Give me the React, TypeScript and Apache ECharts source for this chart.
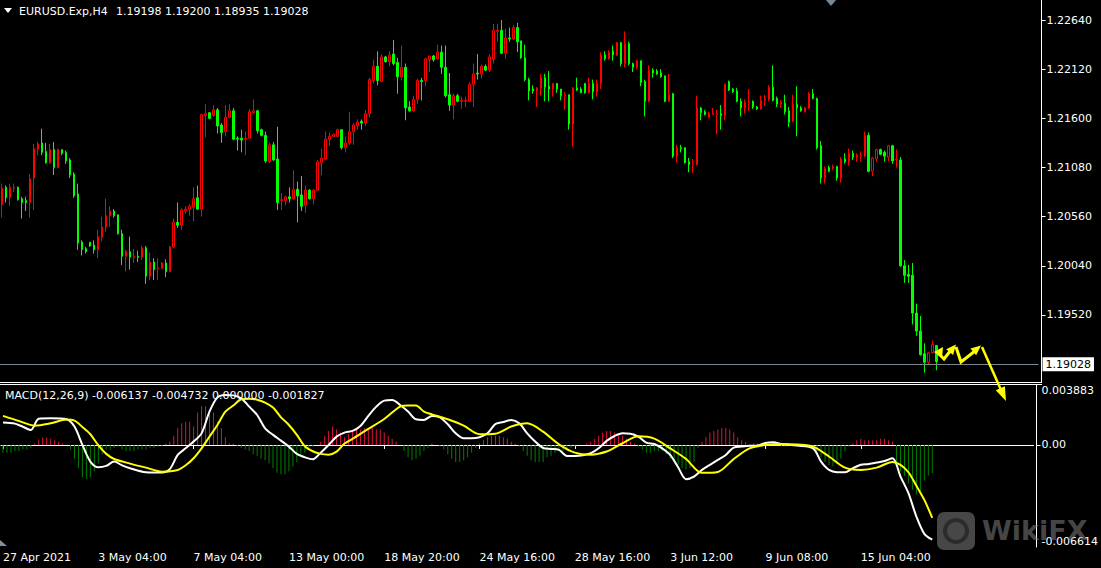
import React, { useEffect, useRef } from 'react';
import * as echarts from 'echarts';

const symbolName = 'EURUSD.Exp,H4';
const indicatorName = 'MACD(12,26,9)';

const opens = [
1.2069,1.2087,1.2076,1.2086,1.2087,1.2075,1.2073,1.2071,1.2097,1.2127,
1.2134,1.2125,1.2113,1.2127,1.2108,1.2127,1.2124,1.2116,1.2101,1.2080,
1.2029,1.2022,1.2029,1.2026,1.2021,1.2034,1.2045,1.2057,1.2062,1.2058,
1.2038,1.2014,1.2019,1.2013,1.2014,1.2013,1.2023,1.1993,1.2008,1.2001,
1.2001,1.2007,1.1998,1.2024,1.2050,1.2047,1.2062,1.2064,1.2066,1.2076,
1.2064,1.2163,1.2166,1.2163,1.2169,1.2153,1.2146,1.2161,1.2168,1.2139,
1.2139,1.2138,1.2139,1.2166,1.2168,1.2148,1.2142,1.2114,1.2132,1.2117,
1.2073,1.2073,1.2077,1.2075,1.2085,1.2079,1.2068,1.2084,1.2075,1.2084,
1.2113,1.2117,1.2138,1.2141,1.2141,1.2148,1.2129,1.2134,1.2146,1.2152,
1.2157,1.2155,1.2165,1.2200,1.2215,1.2199,1.2225,1.2220,1.2228,1.2219,
1.2204,1.2214,1.2172,1.2168,1.2180,1.2200,1.2200,1.2222,1.2226,1.2223,
1.2230,1.2214,1.2185,1.2174,1.2184,1.2178,1.2178,1.2178,1.2196,1.2208,
1.2207,1.2215,1.2211,1.2223,1.2252,1.2253,1.2229,1.2245,1.2244,1.2256,
1.2242,1.2224,1.2201,1.2191,1.2189,1.2192,1.2203,1.2194,1.2191,1.2197,
1.2191,1.2184,1.2185,1.2154,1.2192,1.2191,1.2197,1.2187,1.2197,1.2188,
1.2197,1.2227,1.2223,1.2231,1.2227,1.2240,1.2218,1.2239,1.2218,1.2214,
1.2221,1.2199,1.2178,1.2211,1.2210,1.2208,1.2205,1.2178,1.2186,1.2120,
1.2129,1.2129,1.2114,1.2111,1.2111,1.2171,1.2167,1.2161,1.2164,1.2164,
1.2165,1.2163,1.2199,1.2191,1.2189,1.2178,1.2171,1.2176,1.2178,1.2172,
1.2170,1.2179,1.2180,1.2193,1.2181,1.2175,1.2176,1.2168,1.2157,1.2175,
1.2171,1.2167,1.2171,1.2186,1.2181,1.2131,1.2097,1.2108,1.2107,1.2109,
1.2097,1.2117,1.2114,1.2123,1.2119,1.2120,1.2120,1.2142,1.2104,1.2117,
1.2127,1.2124,1.2119,1.2131,1.2116,1.2116,1.2004,1.1995,1.1994,1.1954,
1.1935,1.1911,1.1902,1.1912,1.19198];

const highs = [
1.2091,1.2089,1.2091,1.2091,1.2088,1.2077,1.2077,1.2101,1.2133,1.2135,
1.2149,1.2134,1.2133,1.2135,1.2128,1.2127,1.2126,1.2118,1.2103,1.2091,
1.2031,1.2024,1.2029,1.2031,1.2042,1.2056,1.2075,1.2067,1.2064,1.2058,
1.2042,1.2021,1.2035,1.2022,1.2020,1.2025,1.2025,1.2018,1.2012,1.2012,
1.2008,1.2011,1.2025,1.2054,1.2071,1.2065,1.2067,1.2069,1.2087,1.2089,
1.2165,1.2175,1.2166,1.2174,1.2171,1.2155,1.2174,1.2175,1.2171,1.2141,
1.2148,1.2146,1.2170,1.2180,1.2169,1.2149,1.2146,1.2134,1.2135,1.2151,
1.2081,1.2078,1.2087,1.2105,1.2093,1.2099,1.2089,1.2085,1.2085,1.2116,
1.2128,1.2146,1.2145,1.2144,1.2149,1.2148,1.2141,1.2167,1.2155,1.2159,
1.2159,1.2169,1.2203,1.2222,1.2231,1.2228,1.2226,1.2231,1.2243,1.2224,
1.2237,1.2218,1.2178,1.2184,1.2202,1.2203,1.2224,1.2226,1.2227,1.2238,
1.2237,1.2237,1.2208,1.2186,1.2186,1.2183,1.2183,1.2198,1.2218,1.2228,
1.2217,1.2217,1.2228,1.2260,1.2260,1.2264,1.2255,1.2256,1.2259,1.2261,
1.2242,1.2238,1.2203,1.2195,1.2193,1.2207,1.2207,1.2210,1.2197,1.2197,
1.2191,1.2188,1.2185,1.2193,1.2203,1.2193,1.2197,1.2203,1.2201,1.2201,
1.2230,1.2231,1.2232,1.2237,1.2241,1.2241,1.2252,1.2241,1.2219,1.2222,
1.2221,1.2201,1.2216,1.2213,1.2212,1.2212,1.2205,1.2207,1.2187,1.2132,
1.2132,1.2129,1.2118,1.2117,1.2184,1.2172,1.2169,1.2167,1.2171,1.2169,
1.2174,1.2197,1.2200,1.2192,1.2192,1.2181,1.2180,1.2191,1.2179,1.2173,
1.2184,1.2185,1.2195,1.2216,1.2183,1.2179,1.2185,1.2172,1.2185,1.2194,
1.2173,1.2172,1.2188,1.2191,1.2182,1.2136,1.2109,1.2110,1.2111,1.2110,
1.2119,1.2123,1.2128,1.2126,1.2123,1.2125,1.2146,1.2145,1.2119,1.2128,
1.2128,1.2126,1.2132,1.2132,1.2127,1.2119,1.2010,1.2005,1.2007,1.1964,
1.1951,1.1922,1.1913,1.1925,1.19200];

const lows = [
1.2055,1.2071,1.2067,1.2082,1.2073,1.2054,1.2062,1.2055,1.2063,1.2121,
1.2121,1.2112,1.2112,1.2100,1.2107,1.2121,1.2112,1.2097,1.2076,1.2021,
1.2015,1.2017,1.2024,1.2017,1.2012,1.2030,1.2040,1.2045,1.2055,1.2037,
1.2005,1.1998,1.2000,1.2007,1.2008,1.2010,1.1985,1.1989,1.1989,1.1989,
1.2001,1.1992,1.1997,1.2023,1.2044,1.2042,1.2059,1.2057,1.2051,1.2063,
1.2056,1.2140,1.2159,1.2162,1.2144,1.2134,1.2141,1.2160,1.2137,1.2126,
1.2124,1.2121,1.2138,1.2165,1.2144,1.2141,1.2113,1.2113,1.2115,1.2063,
1.2063,1.2068,1.2071,1.2074,1.2050,1.2062,1.2060,1.2074,1.2069,1.2083,
1.2100,1.2116,1.2131,1.2140,1.2140,1.2127,1.2124,1.2132,1.2132,1.2148,
1.2148,1.2152,1.2161,1.2197,1.2195,1.2199,1.2219,1.2215,1.2216,1.2186,
1.2200,1.2158,1.2167,1.2167,1.2175,1.2179,1.2194,1.2209,1.2220,1.2223,
1.2207,1.2182,1.2168,1.2159,1.2177,1.2170,1.2172,1.2177,1.2172,1.2201,
1.2202,1.2210,1.2209,1.2218,1.2241,1.2228,1.2223,1.2241,1.2243,1.2230,
1.2223,1.2199,1.2179,1.2186,1.2172,1.2184,1.2178,1.2178,1.2183,1.2187,
1.2179,1.2169,1.2148,1.2130,1.2189,1.2187,1.2186,1.2187,1.2180,1.2183,
1.2191,1.2221,1.2222,1.2221,1.2226,1.2215,1.2214,1.2216,1.2209,1.2212,
1.2194,1.2162,1.2177,1.2203,1.2206,1.2203,1.2177,1.2178,1.2118,1.2113,
1.2124,1.2112,1.2103,1.2102,1.2110,1.2158,1.2163,1.2160,1.2164,1.2143,
1.2148,1.2158,1.2189,1.2187,1.2177,1.2162,1.2165,1.2168,1.2170,1.2169,
1.2169,1.2173,1.2178,1.2178,1.2172,1.2171,1.2164,1.2151,1.2156,1.2141,
1.2167,1.2166,1.2170,1.2180,1.2127,1.2091,1.2091,1.2103,1.2105,1.2094,
1.2092,1.2112,1.2110,1.2116,1.2114,1.2114,1.2119,1.2103,1.2099,1.2114,
1.2121,1.2114,1.2115,1.2112,1.2108,1.2003,1.1986,1.1986,1.1942,1.1930,
1.1909,1.1891,1.1899,1.1911,1.18935];

const closes = [
1.2086,1.2076,1.2087,1.2087,1.2074,1.2071,1.2071,1.2096,1.2128,1.2133,
1.2124,1.2113,1.2127,1.2108,1.2127,1.2123,1.2115,1.2100,1.2078,1.2028,
1.2021,1.2019,1.2025,1.2021,1.2035,1.2045,1.2057,1.2062,1.2057,1.2038,
1.2014,1.2019,1.2013,1.2014,1.2013,1.2023,1.1993,1.2008,1.2000,1.2002,
1.2007,1.1998,1.2024,1.2050,1.2047,1.2063,1.2064,1.2067,1.2075,1.2064,
1.2164,1.2165,1.2160,1.2169,1.2152,1.2145,1.2161,1.2168,1.2138,1.2138,
1.2137,1.2139,1.2167,1.2168,1.2147,1.2142,1.2115,1.2132,1.2116,1.2071,
1.2074,1.2077,1.2075,1.2085,1.2078,1.2067,1.2084,1.2075,1.2084,1.2114,
1.2118,1.2138,1.2141,1.2143,1.2148,1.2129,1.2134,1.2146,1.2153,1.2156,
1.2155,1.2165,1.2201,1.2215,1.2200,1.2225,1.2220,1.2227,1.2218,1.2204,
1.2214,1.2171,1.2168,1.2180,1.2200,1.2199,1.2223,1.2226,1.2222,1.2230,
1.2214,1.2184,1.2174,1.2184,1.2178,1.2179,1.2179,1.2196,1.2207,1.2207,
1.2215,1.2211,1.2225,1.2253,1.2253,1.2229,1.2245,1.2244,1.2256,1.2241,
1.2224,1.2201,1.2189,1.2189,1.2192,1.2203,1.2193,1.2191,1.2197,1.2191,
1.2184,1.2185,1.2154,1.2192,1.2190,1.2187,1.2187,1.2197,1.2188,1.2197,
1.2227,1.2223,1.2230,1.2227,1.2240,1.2218,1.2239,1.2218,1.2214,1.2221,
1.2198,1.2178,1.2211,1.2208,1.2207,1.2204,1.2178,1.2185,1.2120,1.2129,
1.2128,1.2113,1.2111,1.2112,1.2171,1.2166,1.2164,1.2165,1.2165,1.2165,
1.2163,1.2196,1.2190,1.2188,1.2178,1.2171,1.2177,1.2177,1.2172,1.2170,
1.2179,1.2181,1.2193,1.2179,1.2175,1.2177,1.2167,1.2156,1.2175,1.2171,
1.2168,1.2171,1.2186,1.2181,1.2129,1.2097,1.2107,1.2104,1.2109,1.2097,
1.2117,1.2114,1.2123,1.2119,1.2121,1.2121,1.2142,1.2104,1.2118,1.2127,
1.2122,1.2120,1.2131,1.2115,1.2117,1.2004,1.1994,1.1993,1.1954,1.1935,
1.1910,1.1902,1.1912,1.1921,1.19028];

// MACD main line, sampled [bar index, value]
const macdMain = [
[0,0.00145],[3,0.00138],[5,0.00118],[7,0.00097],[9,0.0017],[12,0.00173],[16,0.00166],[18,0.00119],
[20,0.0],[22,-0.00108],[24,-0.00145],[26,-0.00136],[28,-0.00108],[30,-0.00132],[32,-0.00151],
[36,-0.00177],[40,-0.00179],[42,-0.00157],[44,-0.00065],[46,-0.00022],[48,0.00022],[50,0.00075],
[52,0.00216],[54,0.00308],[56,0.00324],[58,0.00321],[60,0.00302],[62,0.00248],[64,0.00194],
[66,0.00108],[68,0.00065],[70,0.00028],[72,-0.00011],[74,-0.00058],[76,-0.0008],[78,-0.00093],
[80,-0.0005],[82,0.0],[84,0.00054],[86,0.0008],[88,0.00091],[90,0.00123],[92,0.00188],[94,0.00248],
[96,0.00287],[98,0.00291],[100,0.00259],[102,0.00216],[104,0.00166],[106,0.00162],[108,0.00188],
[110,0.00179],[112,0.00134],[114,0.00075],[116,0.00043],[118,0.00043],[120,0.0005],[122,0.00075],
[124,0.00136],[126,0.00149],[128,0.00162],[130,0.0014],[132,0.00075],[134,0.00022],[136,-0.0002],
[138,-0.00026],[140,-0.00032],[142,-0.00071],[144,-0.00071],[146,-0.00067],[148,-0.00054],
[150,-0.00022],[152,0.00026],[154,0.00058],[156,0.00075],[158,0.00073],[160,0.00054],[162,0.00015],
[164,0.00006],[166,-0.00022],[168,-0.00065],[170,-0.00145],[172,-0.00222],[174,-0.00205],
[176,-0.00162],[178,-0.00129],[180,-0.00097],[182,-0.00065],[184,-0.00017],[186,-0.00011],
[188,-0.00006],[190,-0.00004],[192,0.00013],[194,0.00017],[196,0.00006],[200,-0.00004],
[204,-0.00022],[206,-0.00108],[208,-0.00162],[210,-0.00177],[212,-0.00177],[214,-0.00151],
[216,-0.00129],[218,-0.00123],[220,-0.00114],[222,-0.00104],[224,-0.00086],[226,-0.00205],
[228,-0.00313],[230,-0.00464],[232,-0.00576],[234,-0.006137]];

// MACD signal line, sampled [bar index, value]
const macdSignal = [
[0,0.00188],[4,0.00155],[8,0.00125],[12,0.0014],[16,0.00164],[18,0.00157],[20,0.00116],[22,0.00069],
[24,-0.00002],[26,-0.00058],[28,-0.00091],[32,-0.00121],[36,-0.00147],[40,-0.00173],[44,-0.00162],
[46,-0.00132],[48,-0.00086],[50,-0.00022],[52,0.00054],[54,0.00129],[56,0.00216],[58,0.00255],
[60,0.00296],[62,0.003],[64,0.00293],[66,0.00274],[68,0.00242],[70,0.00179],[72,0.00129],
[74,0.00065],[76,-0.00009],[78,-0.00041],[80,-0.00058],[82,-0.00063],[84,-0.00043],[86,0.00009],
[88,0.00039],[92,0.00104],[96,0.00168],[100,0.00248],[102,0.00255],[104,0.00255],[106,0.00216],
[108,0.00198],[112,0.00166],[116,0.00125],[120,0.00069],[124,0.00073],[128,0.00119],[132,0.0014],
[136,0.00086],[140,0.00004],[144,-0.0005],[148,-0.00063],[152,-0.00043],[156,0.00011],[160,0.00056],
[164,0.00041],[168,-0.00022],[172,-0.00091],[176,-0.00181],[180,-0.00175],[184,-0.00091],
[188,-0.00022],[192,0],[196,0.00006],[200,0.00002],[204,-0.00011],[208,-0.00075],[212,-0.00147],
[216,-0.00162],[220,-0.00147],[224,-0.0011],[226,-0.00129],[228,-0.00177],[230,-0.00265],
[232,-0.00356],[234,-0.004732]];

const macdHist = [
-0.0005,-0.0005,-0.0005,-0.0004,-0.0004,-0.0003,-0.0003,-0.0002,
0.0001,0.0003,0.0005,0.0005,0.0004,0.0003,0.0002,0.0001,
0.0000,
-0.0003,-0.0009,-0.0015,-0.0021,-0.0022,-0.0021,-0.0017,-0.0012,-0.0006,-0.0003,
-0.0003,-0.0002,-0.0001,-0.0003,-0.0004,-0.0004,-0.0004,-0.0003,-0.0003,-0.0003,-0.0002,-0.0002,-0.0001,-0.0001,0.0001,
0.0002,0.0006,0.0011,0.0014,0.0015,0.0015,0.0012,0.0021,0.0025,0.0025,0.0022,0.0021,0.0015,0.0011,0.0005,0.0001,
0.0001,-0.0001,
-0.0002,-0.0003,-0.0004,-0.0006,-0.0007,-0.0009,-0.0010,-0.0012,-0.0015,-0.0018,-0.0019,-0.0019,-0.0017,-0.0014,-0.0011,-0.0008,-0.0005,-0.0002,
-0.0001,0.0000,
0.0002,0.0006,0.0009,0.0012,0.0010,0.0008,0.0005,0.0007,0.0009,0.0010,0.0010,0.0011,0.0011,0.0011,0.0010,0.0010,0.0008,0.0006,0.0004,0.0002,
0.0000,
-0.0004,-0.0008,-0.0010,-0.0009,-0.0007,-0.0004,-0.0002,
0.0001,0.0000,-0.0001,
-0.0003,-0.0006,-0.0009,-0.0011,-0.0011,-0.0010,-0.0008,-0.0005,-0.0002,
0.0001,0.0003,0.0005,0.0006,0.0006,0.0006,0.0005,0.0004,0.0002,0.0001,
-0.0001,-0.0004,-0.0007,-0.0010,-0.0011,-0.0011,-0.0011,
-0.0008,-0.0007,-0.0005,-0.0004,-0.0004,-0.0003,-0.0002,-0.0001,0.0000,
0.0000,
0.0001,0.0002,0.0004,0.0006,0.0008,0.0009,0.0009,0.0008,0.0007,0.0006,0.0004,0.0002,0.0001,
-0.0001,-0.0003,-0.0005,-0.0005,-0.0004,-0.0004,-0.0004,-0.0006,-0.0009,-0.0011,-0.0013,-0.0015,-0.0016,-0.0015,-0.0011,-0.0002,
0.0002,0.0005,0.0008,0.0009,0.0010,0.0011,0.0011,0.0010,0.0008,0.0005,0.0003,0.0002,0.0000,
0.0001,0.0001,0.0000,0.0001,0.0001,0.0000,0.0000,-0.0001,-0.0001,-0.0001,-0.0001,-0.0001,-0.0001,0.0000,
-0.0001,-0.0001,-0.0004,-0.0008,-0.0011,-0.0013,-0.0014,-0.0012,-0.0009,-0.0004,-0.0001,
0.0001,0.0003,0.0004,0.0003,0.0003,0.0003,0.0003,0.0004,0.0004,0.0003,0.0002,
-0.0014,-0.0017,-0.0020,-0.0025,-0.0029,-0.0032,-0.0030,-0.0023,-0.0020,-0.001827];

const macdExtraBuffer = 0.0;

const timeLabels = ['27 Apr 2021', '3 May 04:00', '7 May 04:00', '13 May 00:00', '18 May 20:00',
  '24 May 16:00', '28 May 16:00', '3 Jun 12:00', '9 Jun 08:00', '15 Jun 04:00'];
const labelEvery = 24;
const totalSlots = 260;

const priceTicks = [1.1952, 1.2004, 1.2056, 1.2108, 1.2160, 1.2212, 1.2264];
const priceMin = 1.18811;
const priceMax = 1.22852;
const macdTicks = [-0.006614, 0, 0.003883];
const macdMin = -0.006614;
const macdMax = 0.003883;

const FONT = '"DejaVu Sans", Verdana, sans-serif';

function buildOption() {
  const n = closes.length;
  const last = n - 1;
  const cats = Array.from({ length: totalSlots }, (_, i) => String(i));
  const candles = opens.map((o, i) => [o, closes[i], lows[i], highs[i]]);
  const lastPrice = closes[last];
  const labelInterval = (idx: number) => idx % labelEvery === 0 && idx / labelEvery < timeLabels.length;

  const arrowHead = (tip: number[], from: number[], len: number, half: number) => {
    const dx = tip[0] - from[0], dy = tip[1] - from[1];
    const d = Math.hypot(dx, dy);
    const ux = dx / d, uy = dy / d;
    const bx = tip[0] - ux * len, by = tip[1] - uy * len;
    return [tip, [bx - uy * half, by + ux * half], [bx + uy * half, by - ux * half]];
  };
  const yellow = '#FFFF00';

  return {
    animation: false,
    backgroundColor: '#000000',
    grid: [
      { left: -1.5, width: 1040, top: 0, height: 382 },
      { left: -1.5, width: 1040, top: 385, height: 162 },
    ],
    xAxis: [
      { type: 'category', gridIndex: 0, data: cats, show: false, boundaryGap: true },
      {
        type: 'category', gridIndex: 1, data: cats, boundaryGap: true,
        axisLine: { show: true, lineStyle: { color: '#ffffff', width: 1 } },
        axisTick: { show: true, alignWithLabel: true, interval: labelInterval, length: 4, lineStyle: { color: '#ffffff' } },
        axisLabel: {
          show: true, interval: labelInterval, align: 'left', margin: 5,
          color: '#ffffff', fontSize: 11, fontFamily: FONT,
          formatter: (_v: string, idx: number) => timeLabels[idx / labelEvery] ?? '',
        },
        splitLine: { show: false },
      },
    ],
    yAxis: [
      {
        type: 'value', gridIndex: 0, position: 'right', offset: 3, min: priceMin, max: priceMax,
        axisLine: { show: true, lineStyle: { color: '#ffffff' } },
        axisTick: { show: true, inside: false, length: 4, customValues: priceTicks, lineStyle: { color: '#ffffff' } },
        axisLabel: { show: true, customValues: priceTicks, margin: 5, color: '#ffffff', fontSize: 11, fontFamily: FONT,
          formatter: (v: number) => v.toFixed(5) },
        splitLine: { show: false },
      },
      {
        type: 'value', gridIndex: 1, position: 'right', offset: 3, min: macdMin, max: macdMax,
        axisLine: { show: true, lineStyle: { color: '#ffffff' } },
        axisTick: { show: true, inside: false, length: 4, customValues: [0], lineStyle: { color: '#ffffff' } },
        axisLabel: {
          show: true, customValues: macdTicks, margin: 5, color: '#ffffff', fontSize: 11, fontFamily: FONT,
          verticalAlignMaxLabel: 'top', verticalAlignMinLabel: 'bottom',
          formatter: (v: number) => (v === 0 ? '0.00' : v.toFixed(6)),
        },
        splitLine: { show: false },
      },
    ],
    series: [
      {
        type: 'candlestick', xAxisIndex: 0, yAxisIndex: 0, data: candles, barWidth: 2,
        itemStyle: { color: '#000000', color0: '#00FF00', borderColor: '#FF0000', borderColor0: '#00FF00', borderWidth: 1 },
        markLine: {
          silent: true, symbol: 'none', animation: false,
          lineStyle: { color: '#7E8894', width: 1, type: 'solid', opacity: 1 },
          label: {
            show: true, position: 'end', distance: 4, formatter: lastPrice.toFixed(5),
            backgroundColor: '#ffffff', color: '#000000', fontSize: 11, fontFamily: FONT, padding: [2, 3, 1, 3],
          },
          data: [{ yAxis: lastPrice }],
        },
        z: 3,
      },
      {
        type: 'bar', xAxisIndex: 1, yAxisIndex: 1, data: macdHist, barWidth: 1,
        itemStyle: { color: (p: any) => (p.value >= 0 ? '#DC143C' : '#008000') },
      },
      {
        type: 'line', xAxisIndex: 1, yAxisIndex: 1, data: macdMain, symbol: 'none', smooth: 0.3,
        lineStyle: { color: '#ffffff', width: 2 }, z: 4,
      },
      {
        type: 'line', xAxisIndex: 1, yAxisIndex: 1, data: macdSignal, symbol: 'none', smooth: 0.3,
        lineStyle: { color: yellow, width: 2 }, z: 5,
      },
    ],
    graphic: [
      { type: 'line', shape: { x1: 0, y1: 382.5, x2: 1042, y2: 382.5 }, style: { stroke: '#ffffff', lineWidth: 1 }, z: 50 },
      { type: 'line', shape: { x1: 0, y1: 384.5, x2: 1042, y2: 384.5 }, style: { stroke: '#ffffff', lineWidth: 1 }, z: 50 },
      { type: 'polygon', shape: { points: [[4, 8], [12, 8], [8, 13]] }, style: { fill: '#ffffff' }, z: 50 },
      { type: 'text', x: 19, y: 11, style: { text: symbolName, fill: '#ffffff', font: `11px ${FONT}`, verticalAlign: 'middle' }, z: 50 },
      { type: 'text', x: 116, y: 11, style: {
          text: [opens[last], highs[last], lows[last], closes[last]].map((v) => v.toFixed(5)).join(' '),
          fill: '#ffffff', font: `11px ${FONT}`, verticalAlign: 'middle' }, z: 50 },
      { type: 'text', x: 5, y: 395, style: {
          text: `${indicatorName} ${(macdMain[macdMain.length - 1][1]).toFixed(6)} ${(macdSignal[macdSignal.length - 1][1]).toFixed(6)} ${macdExtraBuffer.toFixed(6)} ${macdHist[last].toFixed(6)}`,
          fill: '#ffffff', font: `11px ${FONT}`, verticalAlign: 'middle' }, z: 50 },
      { type: 'polygon', shape: { points: [[826, 0], [836, 0], [831, 6]] }, style: { fill: '#778899' }, z: 50 },
      { type: 'polygon', shape: { points: [[0, 540], [0, 546], [7, 546]] }, style: { fill: '#8090A0' }, z: 50 },
      // hand-drawn yellow arrows
      { type: 'polyline', shape: { points: [[939, 354], [944, 359], [951, 350]] }, style: { stroke: yellow, lineWidth: 3, fill: null }, z: 60 },
      { type: 'polygon', shape: { points: [[934, 352], [943, 347], [942, 358]] }, style: { fill: yellow }, z: 60 },
      { type: 'polygon', shape: { points: arrowHead([956, 344.5], [944, 359], 10, 4.5) }, style: { fill: yellow }, z: 60 },
      { type: 'polyline', shape: { points: [[956, 347], [961, 362], [975, 351]] }, style: { stroke: yellow, lineWidth: 3, fill: null }, z: 60 },
      { type: 'polygon', shape: { points: arrowHead([981, 345.5], [961, 362], 10, 4.5) }, style: { fill: yellow }, z: 60 },
      { type: 'line', shape: { x1: 982, y1: 347, x2: 1001, y2: 390 }, style: { stroke: yellow, lineWidth: 2.5 }, z: 60 },
      { type: 'polygon', shape: { points: arrowHead([1006, 401], [982, 347], 14, 5) }, style: { fill: yellow }, z: 60 },
      // watermark
      { type: 'rect', shape: { x: 937, y: 512, width: 38, height: 38, r: 7 }, style: { fill: 'rgba(130,130,130,0.55)' }, z: 70 },
      { type: 'ring', shape: { cx: 956, cy: 531, r: 13, r0: 9 }, style: { fill: 'rgba(20,20,20,0.55)' }, z: 71 },
      { type: 'text', x: 982, y: 530, style: { text: 'WikiFX', fill: 'rgba(130,130,130,0.55)', font: `bold 27px ${FONT}`, verticalAlign: 'middle' }, z: 70 },
    ],
  };
}

export default function App() {
  const ref = useRef<HTMLDivElement>(null);
  useEffect(() => {
    document.body.style.margin = '0';
    document.body.style.background = '#000';
    const chart = echarts.init(ref.current as HTMLDivElement, null, { renderer: 'svg' });
    chart.setOption(buildOption() as any);
    return () => chart.dispose();
  }, []);
  return <div ref={ref} style={{ position: 'absolute', left: 0, top: 0, width: 1101, height: 568, background: '#000' }} />;
}
